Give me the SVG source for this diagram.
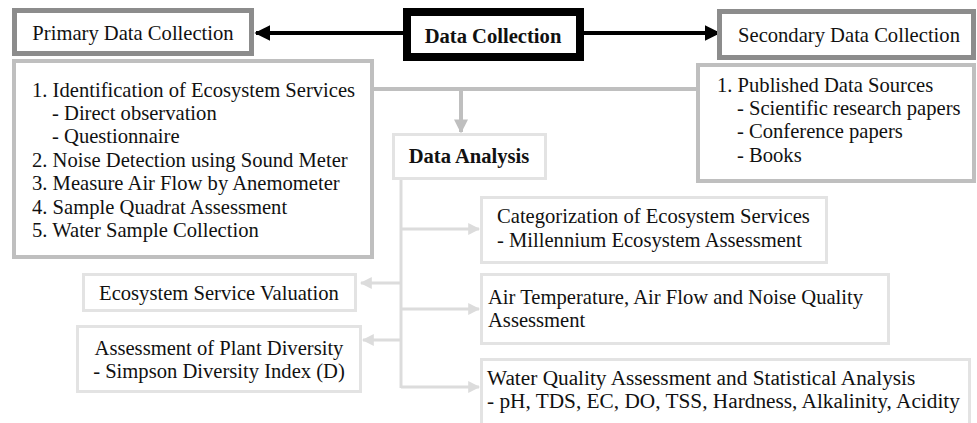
<svg xmlns="http://www.w3.org/2000/svg" width="977" height="423" viewBox="0 0 977 423">
<defs>
<style>
text{font-family:"Liberation Serif","Times New Roman",serif;font-size:20.6px;fill:#111}
.b{font-weight:bold}
.w{font-size:21.3px}
.title{fill:#fff;stroke:#8c8c8c;stroke-width:5}
.det{fill:#fff;stroke:#bfbfbf;stroke-width:4}
.lt{fill:#fff;stroke:#e3e3e3;stroke-width:3}
.ca{fill:none;stroke:#dcdcdc;stroke-width:3}
</style>
<marker id="mb" viewBox="0 0 10 10" refX="9" refY="5" markerWidth="4" markerHeight="4" orient="auto" markerUnits="strokeWidth"><path d="M0,0L10,5L0,10z" fill="#000"/></marker>
<marker id="mg" viewBox="0 0 10 10" refX="9" refY="5" markerWidth="3.5" markerHeight="3.5" orient="auto" markerUnits="strokeWidth"><path d="M0,0L10,5L0,10z" fill="#bfbfbf"/></marker>
<marker id="ml" viewBox="0 0 10 10" refX="9" refY="5" markerWidth="4" markerHeight="4" orient="auto" markerUnits="strokeWidth"><path d="M0,0L10,5L0,10z" fill="#dcdcdc"/></marker>
</defs>
<g id="connectors">
<line x1="403" y1="33" x2="256" y2="33" stroke="#000" stroke-width="4" marker-end="url(#mb)"/>
<line x1="584" y1="33" x2="719" y2="33" stroke="#000" stroke-width="4" marker-end="url(#mb)"/>
<line x1="374" y1="89" x2="697" y2="89" stroke="#bfbfbf" stroke-width="4"/>
<line x1="461" y1="89" x2="461" y2="132" stroke="#bfbfbf" stroke-width="4" marker-end="url(#mg)"/>
<line x1="401" y1="180" x2="401" y2="388" class="ca"/>
<line x1="401" y1="229" x2="479" y2="229" class="ca" marker-end="url(#ml)"/>
<line x1="401" y1="309" x2="479" y2="309" class="ca" marker-end="url(#ml)"/>
<line x1="401" y1="387" x2="479" y2="387" class="ca" marker-end="url(#ml)"/>
<line x1="401" y1="283" x2="361" y2="283" class="ca" marker-end="url(#ml)"/>
<line x1="401" y1="340" x2="363" y2="340" class="ca" marker-end="url(#ml)"/>
</g>
<g id="primary">
<rect class="title" x="14.5" y="10.5" width="237" height="43"/>
<text x="133" y="40" text-anchor="middle">Primary Data Collection</text>
</g>
<g id="data-collection">
<rect x="407" y="12" width="173" height="45" fill="#fff" stroke="#000" stroke-width="8"/>
<text class="b" x="493" y="43" text-anchor="middle">Data Collection</text>
</g>
<g id="secondary">
<rect class="title" x="719.5" y="11.5" width="254" height="46"/>
<text x="849" y="42" text-anchor="middle">Secondary Data Collection</text>
</g>
<g id="primary-details">
<rect class="det" x="14" y="61" width="358" height="196"/>
<text x="32" y="97">1. Identification of Ecosystem Services</text>
<text x="52" y="120">- Direct observation</text>
<text x="52" y="143">- Questionnaire</text>
<text x="32" y="167">2. Noise Detection using Sound Meter</text>
<text x="32" y="190">3. Measure Air Flow by Anemometer</text>
<text x="32" y="214">4. Sample Quadrat Assessment</text>
<text x="32" y="237">5. Water Sample Collection</text>
</g>
<g id="secondary-details">
<rect class="det" x="698" y="65" width="276" height="116"/>
<text x="717" y="92">1. Published Data Sources</text>
<text x="737" y="115">- Scientific research papers</text>
<text x="737" y="138">- Conference papers</text>
<text x="737" y="162">- Books</text>
</g>
<g id="data-analysis">
<rect class="lt" x="393.5" y="134.5" width="152" height="44"/>
<text class="b" x="469" y="163" text-anchor="middle">Data Analysis</text>
</g>
<g id="categorization">
<rect class="lt" x="481.5" y="197.5" width="345" height="65"/>
<text x="497" y="223">Categorization of Ecosystem Services</text>
<text x="497" y="247">- Millennium Ecosystem Assessment</text>
</g>
<g id="air">
<rect class="lt" x="481.5" y="274.5" width="407" height="69"/>
<text x="488" y="304">Air Temperature, Air Flow and Noise Quality</text>
<text x="488" y="327">Assessment</text>
</g>
<g id="water">
<rect class="lt" x="481.5" y="359.5" width="488" height="80"/>
<text class="w" x="487" y="385">Water Quality Assessment and Statistical Analysis</text>
<text class="w" x="487" y="408">- pH, TDS, EC, DO, TSS, Hardness, Alkalinity, Acidity</text>
</g>
<g id="valuation">
<rect class="lt" x="83.5" y="274.5" width="272" height="36"/>
<text x="219" y="300" text-anchor="middle">Ecosystem Service Valuation</text>
</g>
<g id="plant">
<rect class="lt" x="77.5" y="326.5" width="283" height="65"/>
<text x="219" y="355" text-anchor="middle">Assessment of Plant Diversity</text>
<text x="219" y="378" text-anchor="middle">- Simpson Diversity Index (D)</text>
</g>
</svg>
